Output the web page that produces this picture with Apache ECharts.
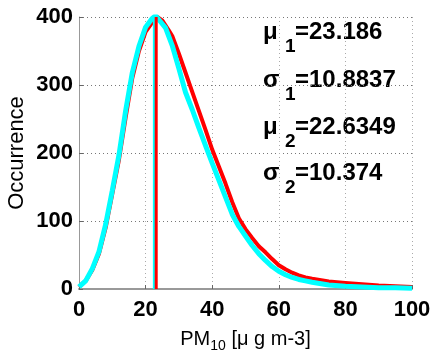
<!DOCTYPE html>
<html><head><meta charset="utf-8">
<script src="https://cdn.jsdelivr.net/npm/echarts@6/dist/echarts.min.js"></script>
<style>html,body{margin:0;padding:0;background:#fff}#c{width:435px;height:352px}</style>
</head><body><div id="c"></div>
<script>
// PM10 concentration bins and occurrence curves
var xRed  = [0,2,4,6,8,10,12,14,16,18,20,22,23.5,25,27,28,30,32,34,36,38,40,42,44,46,48,50,52,54,56,58,60,62,64,66,68,70,75,80,85,90,95,100];
var yRed  = [3,12,28,52,90,140,190,252,310,350,378,392,400,395,380,372,346,318,290,262,234,205,180,155,128,104,88,75,63,54,44,35,29,24,20,17,15,11,9,7,5,4,3];
var xCyan = [0,2,4,6,8,10,12,14,16,18,20,22,23,24,26,28,30,32,34,36,38,40,42,44,46,48,50,52,54,56,58,60,62,64,66,68,70,75,80,85,90,95,100];
var yCyan = [3,12,30,55,95,145,197,262,318,357,385,398,402,396,384,358,324,289,264,237,211,185,160,135,110,92,78,64,52,42,33,26,21,17,14,12,10,6,4,3,2,2,1];
var mu1 = 23.186, sigma1 = 10.8837, mu2 = 22.6349, sigma2 = 10.374;
var xTicks = [0,20,40,60,80,100];
var yTicks = [0,100,200,300,400];

function pairs(xs, ys){ return xs.map(function(x,i){return [x, ys[i]];}); }

var chart = echarts.init(document.getElementById('c'), null, {renderer:'canvas'});
var font = 'Liberation Sans, Arial, Helvetica, sans-serif';
function annot(sym, sub, val, y){
  return {type:'group', children:[
    {type:'text', x:263, y:y, style:{text:sym, font:'bold 24px '+font, fill:'#000', textVerticalAlign:'middle'}},
    {type:'text', x:285, y:y+15, style:{text:sub, font:'bold 19px '+font, fill:'#000', textVerticalAlign:'middle'}},
    {type:'text', x:295, y:y, style:{text:val, font:'bold 24px '+font, fill:'#000', textVerticalAlign:'middle'}}
  ]};
}
chart.setOption({
  animation:false,
  backgroundColor:'#fff',
  grid:{left:79, right:23, top:17, bottom:63, containLabel:false, outerBoundsMode:'none'},
  xAxis:{type:'value', min:xTicks[0], max:xTicks[xTicks.length-1], interval:20,
    axisLine:{show:true, onZero:false, lineStyle:{color:'#999', width:2}},
    axisTick:{show:true, inside:true, length:4, lineStyle:{color:'#666'}},
    axisLabel:{color:'#000', fontSize:22, fontWeight:'bold', fontFamily:font, margin:10},
    splitLine:{show:true, lineStyle:{color:'#aaa', type:[1,3], width:1}},
    name:'{a|PM}{s|10}{a| [μ g m-3]}', nameLocation:'middle', nameGap:36,
    nameTextStyle:{rich:{a:{fontSize:20, fontFamily:font, color:'#000'}, s:{fontSize:14, fontFamily:font, color:'#000', verticalAlign:'bottom', padding:[14,0,0,0]}}}
  },
  yAxis:{type:'value', min:yTicks[0], max:yTicks[yTicks.length-1], interval:100,
    axisLine:{show:true, lineStyle:{color:'#999', width:1}},
    axisTick:{show:true, inside:true, length:4, lineStyle:{color:'#666'}},
    axisLabel:{color:'#000', fontSize:22, fontWeight:'bold', fontFamily:font, margin:6},
    splitLine:{show:true, lineStyle:{color:'#777', type:[1,3], width:1}},
    name:'Occurrence', nameLocation:'middle', nameGap:51, nameMoveOverlap:false,
    nameTextStyle:{fontSize:22, fontFamily:font, color:'#000'}
  },
  series:[
    {type:'line', data:pairs(xRed,yRed), showSymbol:false, lineStyle:{color:'#ff0000', width:4}, z:2},
    {type:'line', data:pairs(xCyan,yCyan), showSymbol:false, lineStyle:{color:'#00ffff', width:5}, z:3},
    {type:'line', data:[[mu2,0],[mu2,400]], showSymbol:false, lineStyle:{color:'#00ffff', width:3}, z:4},
    {type:'line', data:[[mu1,0],[mu1,400]], showSymbol:false, lineStyle:{color:'#ff0000', width:3}, z:5}
  ],
  graphic:[
    annot('μ','1','='+mu1, 32),
    annot('σ','1','='+sigma1, 80),
    annot('μ','2','='+mu2, 127),
    annot('σ','2','='+sigma2, 173)
  ]
});
</script></body></html>
